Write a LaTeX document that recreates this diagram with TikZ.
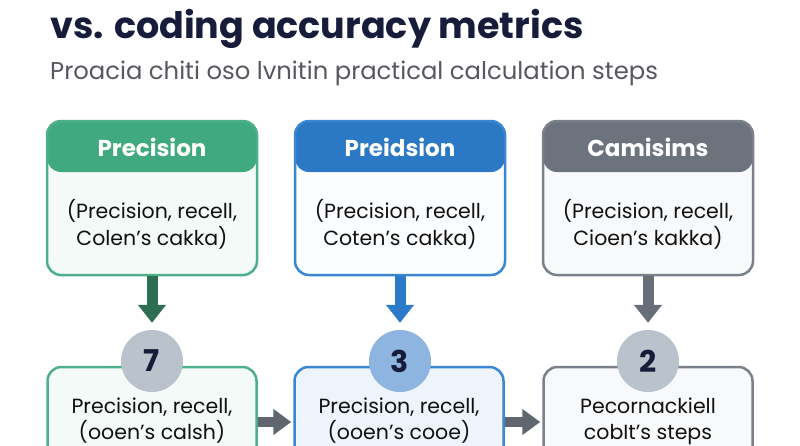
\documentclass[tikz,border=0pt]{standalone}
\usepackage{fontspec}
\setmainfont{Poppins}
\usetikzlibrary{arrows.meta}
\definecolor{navy}{HTML}{161C3A}
\definecolor{subgray}{HTML}{55585E}
\definecolor{txt}{HTML}{111111}
\definecolor{gHead}{HTML}{41A97F}
\definecolor{gLine}{HTML}{4DAF8B}
\definecolor{gFill}{HTML}{F3FAF7}
\definecolor{gArrow}{HTML}{2E6E52}
\definecolor{bHead}{HTML}{2B78C5}
\definecolor{bLine}{HTML}{3A86D0}
\definecolor{bFill}{HTML}{FBFDFF}
\definecolor{bFillB}{HTML}{EDF4FC}
\definecolor{bArrow}{HTML}{2C7AC8}
\definecolor{bCirc}{HTML}{8EB5E0}
\definecolor{kHead}{HTML}{6C737C}
\definecolor{kLine}{HTML}{7A818A}
\definecolor{kFill}{HTML}{F8F9FA}
\definecolor{kArrow}{HTML}{676E78}
\definecolor{kCirc}{HTML}{BAC3CC}
\definecolor{hArrow}{HTML}{5F6670}
\tikzset{
  topbox/.style n args={3}{draw=#1, fill=#2, line width=2.5pt, rounded corners=14pt,
    minimum width=210pt, minimum height=154pt, inner sep=0pt,
    path picture={\fill[#3] (path picture bounding box.north west) rectangle ([yshift=-51pt]path picture bounding box.north east);}},
  botbox/.style 2 args={draw=#1, fill=#2, line width=2.5pt, rounded corners=14pt,
    minimum width=209pt, minimum height=120pt, inner sep=0pt},
  hdrtxt/.style={text=white, font=\bfseries\fontsize{23}{26}\selectfont},
  bodytxt/.style={text=txt, align=center, font=\fontsize{20.5}{27}\selectfont},
  bottxt/.style={text=txt, align=center, font=\fontsize{20.5}{26}\selectfont},
  numcirc/.style={circle, fill=#1, minimum size=62pt, inner sep=0pt, text=navy,
    font=\bfseries\fontsize{30}{30}\selectfont},
  varrow/.style={draw=#1, line width=11pt, shorten >=7pt,
    -{Triangle[width=27pt,length=18pt]}},
  harrow/.style={draw=hArrow, line width=10pt, shorten >=2pt,
    -{Triangle[width=25pt,length=18pt]}}
}
\begin{document}
\begin{tikzpicture}[x=1pt,y=-1pt]
\clip (0,0) rectangle (800,445);
\fill[white] (0,0) rectangle (800,445);
% title
\node[anchor=base west, inner sep=0pt, text=navy, font=\bfseries\fontsize{36.5}{40}\selectfont] (title) at (50,38) {vs. coding accuracy metrics};
\node[anchor=base west, inner sep=0pt, text=subgray, font=\fontsize{24.3}{28}\selectfont] (sub) at (50,79) {Proacia chiti oso lvnitin practical calculation steps};
% top boxes
\node[topbox={gLine}{gFill}{gHead}] (t1) at (152,198) {};
\node[topbox={bLine}{bFill}{bHead}] (t2) at (400,198) {};
\node[topbox={kLine}{kFill}{kHead}] (t3) at (648,198) {};
\node[hdrtxt] (h1) at (152,147) {Precision};
\node[hdrtxt] (h2) at (400,147) {Preidsion};
\node[hdrtxt] (h3) at (648,147) {Camisims};
\node[bodytxt] (x1) at (152,224) {(Precision, recell,\\Colen’s cakka)};
\node[bodytxt] (x2) at (400,224) {(Precision, recell,\\Coten’s cakka)};
\node[bodytxt] (x3) at (648,224) {(Precision, recell,\\Cioen’s kakka)};
% bottom boxes
\node[botbox={gLine}{gFill}] (p1) at (152,427) {};
\node[botbox={bLine}{bFillB}] (p2) at (399,427) {};
\node[botbox={kLine}{kFill}] (p3) at (648,427) {};
\node[bottxt] (y1) at (152,421) {Precision, recell,\\(ooen’s calsh)};
\node[bottxt] (y2) at (399,421) {Precision, recell,\\(ooen’s cooe)};
\node[bottxt] (y3) at (648,421) {Pecornackiell\\cobIt’s steps};
% circles
\node[numcirc=kCirc] (c1) at (152,361) {7};
\node[numcirc=bCirc] (c2) at (400,361) {3};
\node[numcirc=kCirc] (c3) at (648,361) {2};
% vertical arrows
\draw[varrow=gArrow] (t1.south) -- (c1.north);
\draw[varrow=bArrow] (t2.south) -- (c2.north);
\draw[varrow=kArrow] (t3.south) -- (c3.north);
% horizontal arrows
\draw[harrow] ([yshift=5pt]p1.east) -- ([yshift=5pt]p2.west);
\draw[harrow] ([yshift=5pt]p2.east) -- ([yshift=5pt]p3.west);
\end{tikzpicture}
\end{document}
